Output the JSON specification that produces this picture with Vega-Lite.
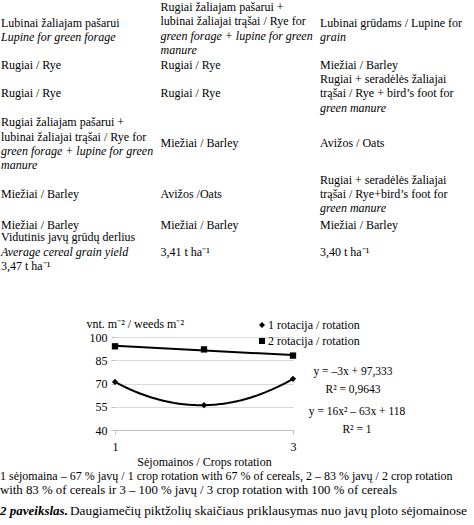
{
  "$schema": "https://vega.github.io/schema/vega-lite/v6.json",
  "padding": 0,
  "background": "white",
  "spacing": 0,
  "bounds": "flush",
  "resolve": {"scale": {"x": "independent", "y": "independent"}, "legend": {"shape": "independent"}},
  "config": {
    "view": {"stroke": null},
    "font": "Liberation Serif",
    "text": {"font": "Liberation Serif", "fontSize": 12, "color": "#000"}
  },
  "vconcat": [
    {
      "width": 474,
      "height": 336.5,
      "data": {"values": [
        {"col": 0, "line": 2.1, "lang": "lt", "text": "Lubinai žaliajam pašarui"},
        {"col": 0, "line": 3.1, "lang": "en", "text": "Lupine for green forage"},
        {"col": 0, "line": 5, "lang": "lt", "text": "Rugiai / Rye"},
        {"col": 0, "line": 7, "lang": "lt", "text": "Rugiai / Rye"},
        {"col": 0, "line": 9, "lang": "lt", "text": "Rugiai žaliajam pašarui +"},
        {"col": 0, "line": 10, "lang": "lt", "text": "lubinai žaliajai trąšai / Rye for"},
        {"col": 0, "line": 11, "lang": "en", "text": "green forage + lupine for green"},
        {"col": 0, "line": 12, "lang": "en", "text": "manure"},
        {"col": 0, "line": 14, "lang": "lt", "text": "Miežiai / Barley"},
        {"col": 0, "line": 16.15, "lang": "lt", "text": "Miežiai / Barley"},
        {"col": 0, "line": 17, "lang": "lt", "text": "Vidutinis javų grūdų derlius"},
        {"col": 0, "line": 18, "lang": "en", "text": "Average cereal grain yield"},
        {"col": 0, "line": 19, "lang": "lt", "text": "3,47 t ha⁻¹"},
        {"col": 1, "line": 1, "lang": "lt", "text": "Rugiai žaliajam pašarui +"},
        {"col": 1, "line": 2, "lang": "lt", "text": "lubinai žaliajai trąšai / Rye for"},
        {"col": 1, "line": 3, "lang": "en", "text": "green forage + lupine for green"},
        {"col": 1, "line": 4, "lang": "en", "text": "manure"},
        {"col": 1, "line": 5, "lang": "lt", "text": "Rugiai / Rye"},
        {"col": 1, "line": 7, "lang": "lt", "text": "Rugiai / Rye"},
        {"col": 1, "line": 10.45, "lang": "lt", "text": "Miežiai / Barley"},
        {"col": 1, "line": 14, "lang": "lt", "text": "Avižos /Oats"},
        {"col": 1, "line": 16.15, "lang": "lt", "text": "Miežiai / Barley"},
        {"col": 1, "line": 18, "lang": "lt", "text": "3,41 t ha⁻¹"},
        {"col": 2, "line": 2.1, "lang": "lt", "text": "Lubinai grūdams / Lupine for"},
        {"col": 2, "line": 3.1, "lang": "en", "text": "grain"},
        {"col": 2, "line": 5, "lang": "lt", "text": "Miežiai / Barley"},
        {"col": 2, "line": 6, "lang": "lt", "text": "Rugiai + seradėlės žaliajai"},
        {"col": 2, "line": 7, "lang": "lt", "text": "trąšai / Rye + bird’s foot for"},
        {"col": 2, "line": 8, "lang": "en", "text": "green manure"},
        {"col": 2, "line": 10.45, "lang": "lt", "text": "Avižos / Oats"},
        {"col": 2, "line": 13, "lang": "lt", "text": "Rugiai + seradėlės žaliajai"},
        {"col": 2, "line": 14, "lang": "lt", "text": "trąšai / Rye+bird’s foot for"},
        {"col": 2, "line": 15, "lang": "en", "text": "green manure"},
        {"col": 2, "line": 16.15, "lang": "lt", "text": "Miežiai / Barley"},
        {"col": 2, "line": 18, "lang": "lt", "text": "3,40 t ha⁻¹"}
      ]},
      "encoding": {
        "x": {"field": "col", "type": "quantitative", "scale": {"domain": [0, 2], "range": [1, 320], "nice": false, "zero": false}, "axis": null},
        "y": {"field": "line", "type": "quantitative", "scale": {"domain": [1, 19], "range": [7, 266], "nice": false, "zero": false}, "axis": null},
        "text": {"field": "text", "type": "nominal"}
      },
      "layer": [
        {"transform": [{"filter": "datum.lang == 'lt'"}], "mark": {"type": "text", "align": "left", "baseline": "middle", "fontSize": 12}},
        {"transform": [{"filter": "datum.lang == 'en'"}], "mark": {"type": "text", "align": "left", "baseline": "middle", "fontSize": 12, "fontStyle": "italic"}}
      ]
    },
    {
      "width": 474,
      "height": 93,
      "resolve": {"scale": {"x": "independent", "y": "independent"}},
      "layer": [
        {
          "data": {"values": [
            {"rotation": 1, "series": "1 rotacija / rotation", "weeds": 71},
            {"rotation": 2, "series": "1 rotacija / rotation", "weeds": 56},
            {"rotation": 3, "series": "1 rotacija / rotation", "weeds": 73},
            {"rotation": 1, "series": "2 rotacija / rotation", "weeds": 94},
            {"rotation": 2, "series": "2 rotacija / rotation", "weeds": 92},
            {"rotation": 3, "series": "2 rotacija / rotation", "weeds": 88}
          ]},
          "encoding": {
            "x": {"field": "rotation", "type": "quantitative",
              "scale": {"domain": [1, 3], "range": [115, 293], "nice": false, "zero": false},
              "axis": {"values": [1, 2, 3], "format": "d", "grid": false, "labelFlush": false,
                "domainColor": "#bfbfbf", "tickColor": "#bfbfbf", "tickSize": 4, "labelPadding": 7,
                "labelFont": "Liberation Serif", "labelFontSize": 12, "labelColor": "#000",
                "title": "Sėjomainos / Crops rotation", "titleFont": "Liberation Serif", "titleFontSize": 12,
                "titleFontWeight": "normal", "titleColor": "#000",
                "titleX": 204, "titleY": 31.5, "titleAlign": "center", "titleBaseline": "middle", "titleAngle": 0}},
            "y": {"field": "weeds", "type": "quantitative",
              "scale": {"domain": [40, 100], "nice": false, "zero": false},
              "axis": {"values": [40, 55, 70, 85, 100], "domain": false, "grid": true, "gridColor": "#d9d9d9",
                "offset": -115, "tickColor": "#bfbfbf", "tickSize": 4, "labelPadding": 4,
                "labelFont": "Liberation Serif", "labelFontSize": 12, "labelColor": "#000",
                "title": "vnt. m⁻² / weeds m⁻²", "titleAngle": 0, "titleAlign": "left", "titleBaseline": "middle",
                "titleX": -29, "titleY": -13.5, "titleFont": "Liberation Serif", "titleFontSize": 12,
                "titleFontWeight": "normal", "titleColor": "#000"}}
          },
          "layer": [
            {
              "transform": [
                {"filter": "datum.series == '2 rotacija / rotation'"},
                {"regression": "weeds", "on": "rotation", "method": "linear"}
              ],
              "mark": {"type": "line", "color": "#000", "strokeWidth": 2}
            },
            {
              "transform": [
                {"filter": "datum.series == '1 rotacija / rotation'"},
                {"regression": "weeds", "on": "rotation", "method": "poly", "order": 2}
              ],
              "mark": {"type": "line", "color": "#000", "strokeWidth": 2}
            },
            {
              "mark": {"type": "point", "filled": true, "color": "#000", "opacity": 1, "size": 40},
              "encoding": {
                "shape": {"field": "series", "type": "nominal",
                  "scale": {"domain": ["1 rotacija / rotation", "2 rotacija / rotation"], "range": ["diamond", "square"]},
                  "legend": {"title": null, "orient": "none", "legendX": 256, "legendY": -18, "padding": 0,
                    "labelFont": "Liberation Serif", "labelFontSize": 12, "labelColor": "#000",
                    "symbolSize": 36, "symbolFillColor": "#000", "symbolStrokeColor": "#000", "rowPadding": 4, "labelOffset": 0}}
              }
            }
          ]
        },
        {
          "data": {"values": [
            {"trend": "linear", "eq": ["y = –3x + 97,333", "R² = 0,9643"]},
            {"trend": "poly", "eq": ["y = 16x² – 63x + 118", "R² = 1"]}
          ]},
          "mark": {"type": "text", "align": "center", "baseline": "top", "fontSize": 11.5, "lineHeight": 17.5},
          "encoding": {
            "x": {"field": "trend", "type": "nominal", "scale": {"type": "point", "domain": ["linear", "poly"], "range": [353, 357], "padding": 0}, "axis": null},
            "y": {"field": "trend", "type": "nominal", "scale": {"type": "point", "domain": ["linear", "poly"], "range": [29, 69], "padding": 0}, "axis": null},
            "text": {"field": "eq", "type": "nominal"}
          }
        }
      ]
    },
    {
      "width": 474,
      "height": 95.5,
      "data": {"values": [
        {"line": 1, "part": "body", "side": "start", "text": "1 sėjomaina – 67 % javų / 1 crop rotation with 67 % of cereals, 2 – 83 % javų / 2 crop rotation"},
        {"line": 2, "part": "end", "side": "start", "text": "with 83 % of cereals ir 3 – 100 % javų / 3 crop rotation with 100 % of cereals"},
        {"line": 3.5, "part": "label", "side": "start", "text": "2 paveikslas."},
        {"line": 3.5, "part": "title", "side": "end", "text": "Daugiamečių piktžolių skaičiaus priklausymas nuo javų ploto sėjomainose"}
      ]},
      "encoding": {
        "x": {"field": "side", "type": "nominal", "scale": {"type": "point", "domain": ["start", "end"], "range": [0, 467], "padding": 0}, "axis": null},
        "y": {"field": "line", "type": "quantitative", "scale": {"domain": [1, 3.5], "range": [45.5, 80.5], "nice": false, "zero": false}, "axis": null},
        "text": {"field": "text", "type": "nominal"}
      },
      "layer": [
        {"transform": [{"filter": "datum.part == 'body'"}], "mark": {"type": "text", "align": "left", "baseline": "middle", "fontSize": 12}},
        {"transform": [{"filter": "datum.part == 'end'"}], "mark": {"type": "text", "align": "left", "baseline": "middle", "fontSize": 12.8}},
        {"transform": [{"filter": "datum.part == 'label'"}], "mark": {"type": "text", "align": "left", "baseline": "middle", "fontSize": 13, "fontStyle": "italic", "fontWeight": "bold"}},
        {"transform": [{"filter": "datum.part == 'title'"}], "mark": {"type": "text", "align": "right", "baseline": "middle", "fontSize": 13.3}}
      ]
    }
  ]
}
